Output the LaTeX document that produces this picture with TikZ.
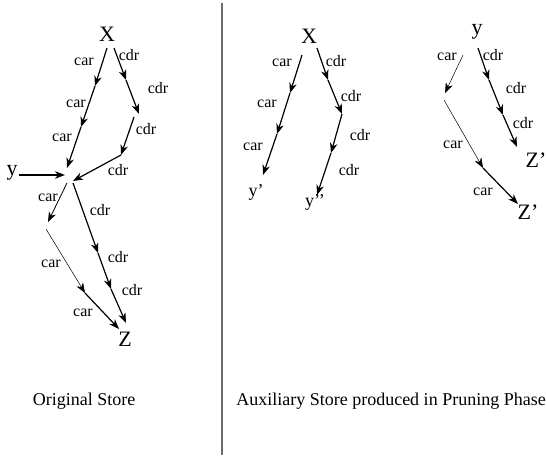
\documentclass[tikz,border=0pt]{standalone}
\usepackage{fontspec}
\setmainfont{Liberation Serif}
\usetikzlibrary{arrows.meta}
\tikzset{
    link/.style={line width=1.2pt, -{Stealth[length=10pt, width=7.5pt, inset=3pt]}},
    thinlink/.style={line width=0.5pt, -{Stealth[length=10pt, width=7.5pt, inset=3pt]}},
    midlink/.style={line width=0.8pt, -{Stealth[length=10pt, width=7.5pt, inset=3pt]}},
    var/.style={font=\fontsize{22}{22}\selectfont, inner sep=0pt},
    smallvar/.style={font=\fontsize{18}{18}\selectfont, inner sep=0pt},
    sel/.style={font=\fontsize{16}{16}\selectfont, inner sep=0pt, text height=7.5pt, text depth=0pt},
    caption/.style={font=\fontsize{18}{18}\selectfont, inner sep=0pt, anchor=base},
}
\begin{document}
\begin{tikzpicture}[x=1pt, y=-1pt]
    \useasboundingbox (0,0) rectangle (546,455);
    % divider
    \draw[line width=2pt, black!58] (222,3) -- (222,455);

    % original store
    \node[var] (x) at (107,34) {X};
    \node[var] (y) at (12,173) {y};
    \node[var] (z) at (125,339) {Z};
    \coordinate (a0) at (107,48);  \coordinate (a1) at (95,86);
    \coordinate (a2) at (81,127);  \coordinate (a3) at (67,168);
    \coordinate (d0) at (114,48);  \coordinate (d1) at (126,80);
    \coordinate (d2) at (139,114); \coordinate (d3) at (134,117);
    \coordinate (d4) at (121,155); \coordinate (d5) at (73,181);
    \coordinate (yend) at (65,175);
    \coordinate (e0) at (67,183);  \coordinate (e1) at (48,222);
    \coordinate (f0) at (46,229);  \coordinate (f1) at (85,293);
    \coordinate (f2) at (119,329);
    \coordinate (g0) at (73,183);  \coordinate (g1) at (98,253);
    \coordinate (g2) at (111,289); \coordinate (g3) at (126,323);
    \foreach \i/\j in {a0/a1, a1/a2, a2/a3, d0/d1, d1/d2, d3/d4, d4/d5,
        f1/f2, g0/g1, g1/g2, g2/g3}
        \draw[link] (\i) -- (\j);
    \draw[link] ([xshift=1pt]y.east |- yend) -- (yend);
    \draw[midlink] (e0) -- (e1);
    \draw[thinlink] (f0) -- (f1);
    \node[sel] (ocar1) at (84,62) {car};
    \node[sel] (ocar2) at (76,104) {car};
    \node[sel] (ocar3) at (62,138) {car};
    \node[sel] (ocar4) at (48,198) {car};
    \node[sel] (ocar5) at (51,264) {car};
    \node[sel] (ocar6) at (83,313) {car};
    \node[sel] (ocdr1) at (129,57) {cdr};
    \node[sel] (ocdr2) at (158,90) {cdr};
    \node[sel] (ocdr3) at (146,131) {cdr};
    \node[sel] (ocdr4) at (118,172) {cdr};
    \node[sel] (ocdr5) at (100,212) {cdr};
    \node[sel] (ocdr6) at (118,259) {cdr};
    \node[sel] (ocdr7) at (132,292) {cdr};

    % auxiliary store
    \node[var] (x2) at (309,36) {X};
    \node[smallvar] (yp) at (256,192) {y’};
    \node[smallvar] (ypp) at (315,202) {y{’}{’}};
    \coordinate (h0) at (302,55);  \coordinate (h1) at (290,93);
    \coordinate (h2) at (277,134); \coordinate (h3) at (263,175);
    \coordinate (k0) at (317,48);  \coordinate (k1) at (328,80);
    \coordinate (k2) at (342,114); \coordinate (k3) at (331,153);
    \coordinate (k4) at (317,195);
    \foreach \i/\j in {h0/h1, h1/h2, h2/h3, k0/k1, k1/k2, k2/k3, k3/k4}
        \draw[link] (\i) -- (\j);
    \node[sel] (acar1) at (282,63) {car};
    \node[sel] (acar2) at (267,104) {car};
    \node[sel] (acar3) at (253,147) {car};
    \node[sel] (acdr1) at (336,63) {cdr};
    \node[sel] (acdr2) at (351,98) {cdr};
    \node[sel] (acdr3) at (360,137) {cdr};
    \node[sel] (acdr4) at (349,172) {cdr};

    \node[var] (y2) at (477,32) {y};
    \node[var] (zp) at (536,160) {Z’};
    \node[var] (zp2) at (528,212) {Z’};
    \coordinate (m0) at (463,55);  \coordinate (m1) at (445,93);
    \coordinate (n0) at (444,100); \coordinate (n1) at (483,168);
    \coordinate (n2) at (518,204);
    \coordinate (p0) at (478,48);  \coordinate (p1) at (489,80);
    \coordinate (p2) at (503,115); \coordinate (p3) at (517,147);
    \foreach \i/\j in {p0/p1, p1/p2, p2/p3, n1/n2}
        \draw[link] (\i) -- (\j);
    \draw[thinlink] (m0) -- (m1);
    \draw[thinlink] (n0) -- (n1);
    \node[sel] (bcar1) at (447,57) {car};
    \node[sel] (bcar2) at (453,145) {car};
    \node[sel] (bcar3) at (483,192) {car};
    \node[sel] (bcdr1) at (493,57) {cdr};
    \node[sel] (bcdr2) at (516,90) {cdr};
    \node[sel] (bcdr3) at (523,125) {cdr};

    % captions
    \node[caption] (orig) at (84,405) {Original Store};
    \node[caption] (aux) at (391,405) {Auxiliary Store produced in Pruning Phase};
\end{tikzpicture}
\end{document}
